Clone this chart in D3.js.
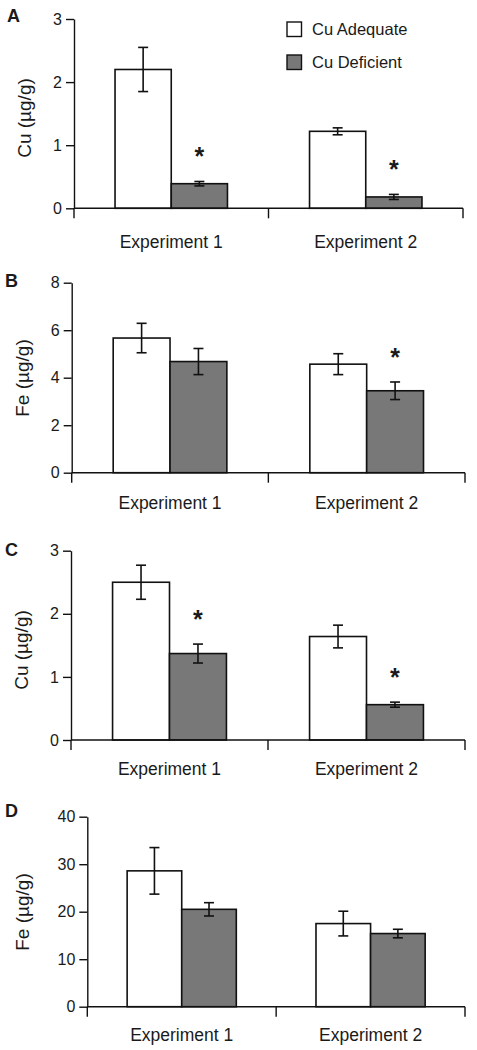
<!DOCTYPE html>
<html>
<head>
<meta charset="utf-8">
<script src="https://cdn.jsdelivr.net/npm/d3@7"></script>
<style>
  html, body { margin: 0; padding: 0; background: #fff; }
  svg { display: block; }
  text { font-family: "Liberation Sans", Arial, Helvetica, sans-serif; fill: #1a1a1a; }
</style>
</head>
<body>
<svg id="chart" width="477" height="1050"></svg>
<script>
// ---------- data ----------
const categories = ["Experiment 1", "Experiment 2"];
const seriesNames = ["Cu Adequate", "Cu Deficient"];

// Panel A: Cu (µg/g)
const aAdequate = [2.20, 1.22];
const aAdequateErr = [0.35, 0.055];
const aDeficient = [0.39, 0.18];
const aDeficientErr = [0.035, 0.04];
const aSignificant = [true, true];
const aTicks = [0, 1, 2, 3];

// Panel B: Fe (µg/g)
const bAdequate = [5.67, 4.57];
const bAdequateErr = [0.62, 0.44];
const bDeficient = [4.68, 3.45];
const bDeficientErr = [0.55, 0.37];
const bSignificant = [false, true];
const bTicks = [0, 2, 4, 6, 8];

// Panel C: Cu (µg/g)
const cAdequate = [2.50, 1.64];
const cAdequateErr = [0.27, 0.18];
const cDeficient = [1.37, 0.56];
const cDeficientErr = [0.15, 0.04];
const cSignificant = [true, true];
const cTicks = [0, 1, 2, 3];

// Panel D: Fe (µg/g)
const dAdequate = [28.6, 17.5];
const dAdequateErr = [4.9, 2.6];
const dDeficient = [20.5, 15.4];
const dDeficientErr = [1.4, 0.9];
const dSignificant = [false, false];
const dTicks = [0, 10, 20, 30, 40];

const yLabels = ["Cu (\u00b5g/g)", "Fe (\u00b5g/g)", "Cu (\u00b5g/g)", "Fe (\u00b5g/g)"];
const panelLetters = ["A", "B", "C", "D"];

// ---------- layout ----------
const layouts = [
  {left: 74,   right: 463, top: 19,    bottom: 208.3,  catDy: 40, letterX: 7, letterY: 22,  ylX: 24, ylY: 118},
  {left: 71.7, right: 465, top: 282.7, bottom: 472.7,  catDy: 36, letterX: 5, letterY: 287, ylX: 22, ylY: 378},
  {left: 71,   right: 465, top: 550.7, bottom: 740,    catDy: 35, letterX: 5, letterY: 556, ylX: 21, ylY: 650},
  {left: 87.3, right: 465, top: 816.7, bottom: 1006.7, catDy: 34, letterX: 5, letterY: 817, ylX: 22, ylY: 912}
];

const panels = [
  {adequate: aAdequate, adequateErr: aAdequateErr, deficient: aDeficient, deficientErr: aDeficientErr, sig: aSignificant, ticks: aTicks},
  {adequate: bAdequate, adequateErr: bAdequateErr, deficient: bDeficient, deficientErr: bDeficientErr, sig: bSignificant, ticks: bTicks},
  {adequate: cAdequate, adequateErr: cAdequateErr, deficient: cDeficient, deficientErr: cDeficientErr, sig: cSignificant, ticks: cTicks},
  {adequate: dAdequate, adequateErr: dAdequateErr, deficient: dDeficient, deficientErr: dDeficientErr, sig: dSignificant, ticks: dTicks}
];

const fills = {"Cu Adequate": "#ffffff", "Cu Deficient": "#787878"};
const svg = d3.select("#chart");

panels.forEach((p, i) => {
  const L = layouts[i];
  const g = svg.append("g");

  const y = d3.scaleLinear()
    .domain([0, d3.max(p.ticks)])
    .range([L.bottom, L.top]);

  const x0 = d3.scaleBand()
    .domain(categories)
    .range([L.left, L.right])
    .padding(0);

  const x1 = d3.scaleBand()
    .domain(seriesNames)
    .range([0, x0.bandwidth()])
    .paddingInner(0)
    .paddingOuter(0.73);

  const rows = [];
  categories.forEach((c, k) => {
    rows.push({cat: c, s: seriesNames[0], v: p.adequate[k], e: p.adequateErr[k], sig: false});
    rows.push({cat: c, s: seriesNames[1], v: p.deficient[k], e: p.deficientErr[k], sig: p.sig[k]});
  });

  // bars
  g.selectAll("rect.bar").data(rows).enter().append("rect")
    .attr("class", "bar")
    .attr("x", d => x0(d.cat) + x1(d.s))
    .attr("y", d => y(d.v))
    .attr("width", x1.bandwidth())
    .attr("height", d => y(0) - y(d.v))
    .attr("fill", d => fills[d.s])
    .attr("stroke", "#111")
    .attr("stroke-width", 1.6);

  // error bars
  const cap = 5;
  const eb = g.selectAll("g.err").data(rows).enter().append("g")
    .attr("class", "err")
    .attr("stroke", "#111")
    .attr("stroke-width", 1.6);
  const cx = d => x0(d.cat) + x1(d.s) + x1.bandwidth() / 2;
  eb.append("line")
    .attr("x1", cx).attr("x2", cx)
    .attr("y1", d => y(d.v + d.e)).attr("y2", d => y(d.v - d.e));
  eb.append("line")
    .attr("x1", d => cx(d) - cap).attr("x2", d => cx(d) + cap)
    .attr("y1", d => y(d.v + d.e)).attr("y2", d => y(d.v + d.e));
  eb.append("line")
    .attr("x1", d => cx(d) - cap).attr("x2", d => cx(d) + cap)
    .attr("y1", d => y(d.v - d.e)).attr("y2", d => y(d.v - d.e));

  // significance asterisks
  g.selectAll("text.sig").data(rows.filter(d => d.sig)).enter().append("text")
    .attr("class", "sig")
    .attr("x", cx)
    .attr("y", d => y(d.v + d.e) - 30)
    .attr("dy", "0.55em")
    .attr("text-anchor", "middle")
    .style("font-size", "25px")
    .style("font-weight", "bold")
    .text("*");

  // y axis
  const yAxis = d3.axisLeft(y)
    .tickValues(p.ticks)
    .tickSize(8)
    .tickSizeOuter(0)
    .tickPadding(4)
    .tickFormat(d3.format("d"));
  const ya = g.append("g")
    .attr("transform", `translate(${L.left},0)`)
    .call(yAxis);
  ya.select(".domain").attr("stroke", "#111").attr("stroke-width", 1.4);
  ya.selectAll(".tick line").attr("stroke", "#111").attr("stroke-width", 1.4);
  ya.selectAll(".tick text")
    .style("font-size", "16px")
    .style("font-family", "'Liberation Sans', Arial, sans-serif")
    .attr("fill", "#1a1a1a");

  // x axis (category axis with boundary ticks)
  const xa = g.append("g").attr("stroke", "#111").attr("stroke-width", 1.4);
  xa.append("line")
    .attr("x1", x0.range()[0]).attr("x2", x0.range()[1])
    .attr("y1", y(0)).attr("y2", y(0));
  const bounds = categories.map(c => x0(c)).concat([x0(categories[categories.length - 1]) + x0.bandwidth()]);
  xa.selectAll("line.bt").data(bounds).enter().append("line")
    .attr("class", "bt")
    .attr("x1", d => d).attr("x2", d => d)
    .attr("y1", y(0)).attr("y2", y(0) + 10);

  // category labels
  g.selectAll("text.cat").data(categories).enter().append("text")
    .attr("class", "cat")
    .attr("x", d => x0(d) + x0.bandwidth() / 2)
    .attr("y", y(0) + L.catDy)
    .attr("text-anchor", "middle")
    .style("font-size", "17.5px")
    .text(d => d);

  // y label
  g.append("text")
    .attr("transform", `translate(${L.ylX},${L.ylY}) rotate(-90)`)
    .attr("text-anchor", "middle")
    .attr("dominant-baseline", "central")
    .style("font-size", "19px")
    .text(yLabels[i]);

  // panel letter
  g.append("text")
    .attr("x", L.letterX)
    .attr("y", L.letterY)
    .style("font-size", "18px")
    .style("font-weight", "bold")
    .text(panelLetters[i]);

  // legend in panel A
  if (i === 0) {
    const lg = g.append("g");
    const items = seriesNames.map((s, k) => ({s: s, k: k}));
    lg.selectAll("rect").data(items).enter().append("rect")
      .attr("x", 287)
      .attr("y", d => 22 + d.k * 33)
      .attr("width", 14.5)
      .attr("height", 14.5)
      .attr("fill", d => fills[d.s])
      .attr("stroke", "#111")
      .attr("stroke-width", 1.4);
    lg.selectAll("text").data(items).enter().append("text")
      .attr("x", 312)
      .attr("y", d => 34.5 + d.k * 33)
      .style("font-size", "16.5px")
      .text(d => d.s);
  }
});
</script>
</body>
</html>
